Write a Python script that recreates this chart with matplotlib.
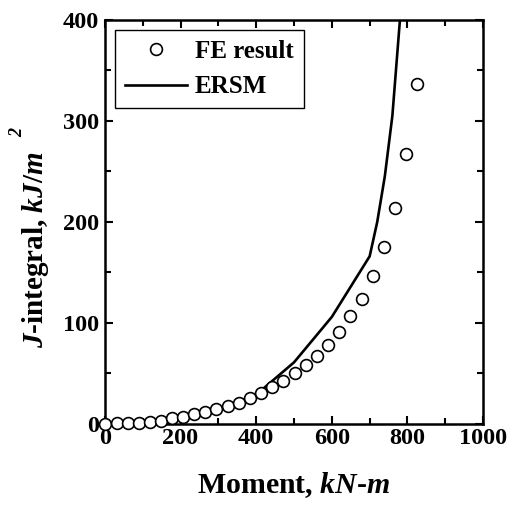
import matplotlib.pyplot as plt
from matplotlib.ticker import MultipleLocator

plt.rcParams['font.family'] = 'Liberation Serif'
plt.rcParams['font.weight'] = 'bold'
plt.rcParams['mathtext.fontset'] = 'custom'
plt.rcParams['mathtext.rm'] = 'Liberation Serif:bold'
plt.rcParams['mathtext.it'] = 'Liberation Serif:italic:bold'
plt.rcParams['mathtext.bf'] = 'Liberation Serif:bold'

# FE result (open circles)
fe_moment = [0, 31, 60, 90, 119, 148, 178, 207, 236, 266, 295, 325, 354, 384,
             414, 443, 472, 502, 532, 561, 591, 620, 649, 679, 708, 737, 766,
             796, 826]
fe_j = [0, 0.7, 0.7, 1.3, 2.3, 3.3, 5.6, 7.3, 9.6, 11.6, 14.5, 17.8, 20.5,
        25.4, 30.4, 36.3, 42.6, 50.2, 58.4, 67.3, 78.2, 91.1, 107, 124, 146.5,
        175.6, 214, 267, 337]

# ERSM (solid line)
ersm_moment = [0, 100, 200, 300, 400, 500, 600, 700, 720, 740, 760, 780, 790]
ersm_j = [0, 1.5, 6, 14, 29, 61, 106, 166, 200, 245, 305, 400, 460]

fig = plt.figure(figsize=(5.14, 5.09), dpi=100)
ax = fig.add_axes([0.204, 0.167, 0.736, 0.794])

ax.plot(fe_moment, fe_j, 'o', mfc='white', mec='black', ms=8.5, mew=1.2,
        label='FE result', zorder=3, clip_on=False)
ax.plot(ersm_moment, ersm_j, '-', color='black', lw=1.9, label='ERSM',
        zorder=2)

ax.set_xlim(0, 1000)
ax.set_ylim(0, 400)
ax.xaxis.set_major_locator(MultipleLocator(200))
ax.xaxis.set_minor_locator(MultipleLocator(100))
ax.yaxis.set_major_locator(MultipleLocator(100))
ax.yaxis.set_minor_locator(MultipleLocator(50))
ax.tick_params(which='both', direction='in', top=True, right=True,
               labelsize=17.5, width=1.5)
ax.tick_params(axis='x', pad=3)
ax.tick_params(axis='y', pad=4)
ax.tick_params(which='major', length=6)
ax.tick_params(which='minor', length=4)
for s in ax.spines.values():
    s.set_linewidth(1.8)

ax.set_xlabel(r'Moment, $kN$-$m$', fontsize=21.5, fontweight='bold',
              labelpad=15)
ax.set_ylabel(r'$J$-integral, $kJ/m$', fontsize=21, fontweight='bold')
ax.yaxis.set_label_coords(-0.142, 0.43)
# superscript "2" sits apart from the label, as in the original figure
fig.text(0.035, 0.739, '2', fontsize=13, fontstyle='italic',
         fontweight='bold', rotation=90, ha='center', va='center')

leg = ax.legend(loc='upper left', fontsize=18, frameon=True, fancybox=False,
                edgecolor='black', framealpha=1, handlelength=2.5,
                borderaxespad=0.4, handletextpad=0.3)
leg.get_frame().set_linewidth(1.0)

fig.savefig('out.png', dpi=100)
